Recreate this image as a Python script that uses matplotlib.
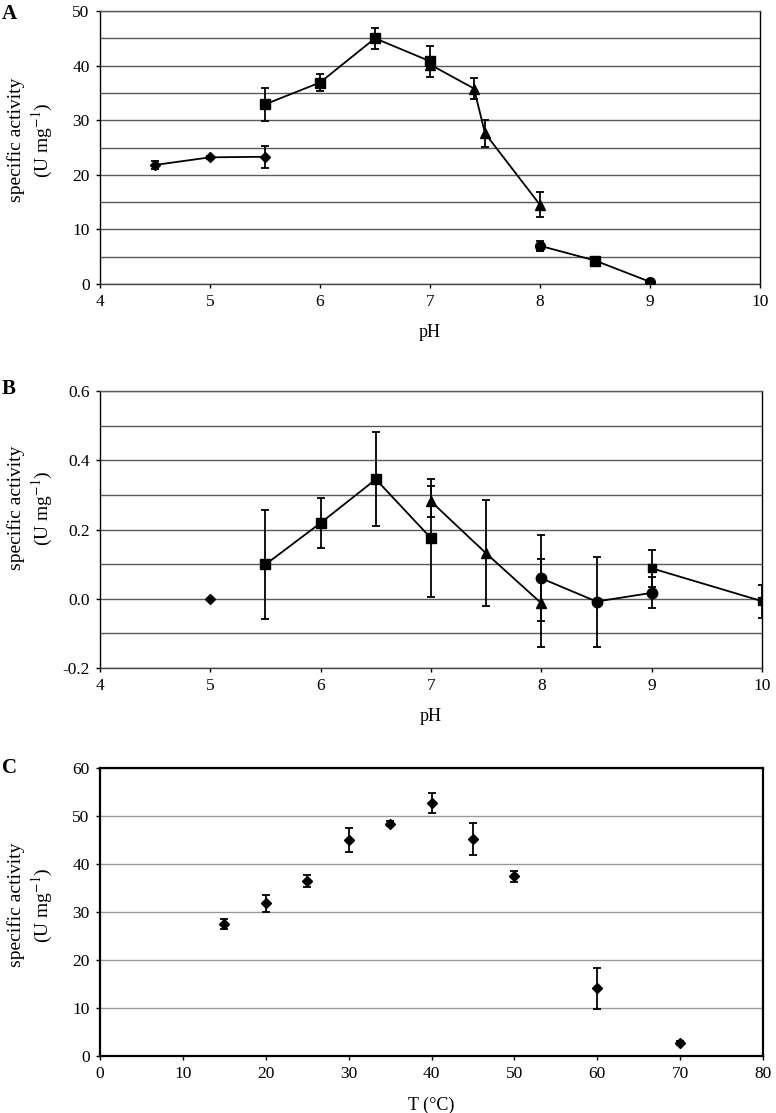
import numpy as np
import matplotlib
matplotlib.use("Agg")
import matplotlib.pyplot as plt
from matplotlib.ticker import MultipleLocator

plt.rcParams['font.family'] = ['Liberation Serif', 'DejaVu Serif']
plt.rcParams['mathtext.fontset'] = 'stix'

# --- panel A: pH profile (U mg-1) ---
a_dia_ph = [4.5, 5.0, 5.5]
a_dia_val = [21.8, 23.2, 23.3]
a_dia_err = [0.7, 0.3, 2.0]

a_sq_ph = [5.5, 6.0, 6.5, 7.0]
a_sq_val = [32.9, 36.9, 45.0, 40.8]
a_sq_err = [3.0, 1.5, 1.9, 2.8]

a_tri_ph = [7.0, 7.4, 7.5, 8.0]
a_tri_val = [40.2, 35.8, 27.6, 14.5]
a_tri_err = [1.0, 2.0, 2.5, 2.3]

a_circ_ph = [8.0, 8.5, 9.0]
a_circ_val = [7.0, 4.3, 0.4]
a_circ_err = [0.9, 0.5, 0.2]

a_sq2_ph = [8.5]
a_sq2_val = [4.3]
a_sq2_err = [0.5]

# --- panel B: pH profile, second enzyme ---
b_dia_ph = [5.0]
b_dia_val = [0.0]

b_sq_ph = [5.5, 6.0, 6.5, 7.0]
b_sq_val = [0.099, 0.219, 0.345, 0.175]
b_sq_err = [0.157, 0.073, 0.136, 0.17]

b_tri_ph = [7.0, 7.5, 8.0]
b_tri_val = [0.281, 0.131, -0.013]
b_tri_err = [0.046, 0.153, 0.127]

b_circ_ph = [8.0, 8.5, 9.0]
b_circ_val = [0.059, -0.008, 0.017]
b_circ_err = [0.124, 0.13, 0.045]

b_sq2_ph = [9.0, 10.0]
b_sq2_val = [0.088, -0.007]
b_sq2_err = [0.054, 0.048]

# --- panel C: temperature profile ---
c_temp = [15, 20, 25, 30, 35, 40, 45, 50, 60, 70]
c_val = [27.5, 31.8, 36.5, 45.0, 48.4, 52.7, 45.2, 37.4, 14.1, 2.7]
c_err = [1.0, 1.7, 1.2, 2.4, 0.5, 2.1, 3.3, 1.2, 4.3, 0.4]

W, H = 776, 1113
fig = plt.figure(figsize=(W / 100, H / 100), dpi=100)

def px_axes(left, top, right, bottom):
    return fig.add_axes([left / W, 1 - bottom / H, (right - left) / W, (bottom - top) / H])

axA = px_axes(100, 11, 760, 284)
axB = px_axes(100, 391, 762, 668)
axC = px_axes(100, 768, 763, 1056)

kw = dict(color='black', ecolor='black', elinewidth=1.3, capthick=1.3, capsize=3.2, lw=1.3)


def series(ax, x, y, e, marker, ms, line=True, **extra):
    ax.errorbar(x, y, yerr=e, fmt=marker + ('-' if line else ''), ms=ms, zorder=3, **kw, **extra)


# panel A
series(axA, a_dia_ph, a_dia_val, a_dia_err, 'D', 5)
series(axA, a_sq_ph, a_sq_val, a_sq_err, 's', 7.5)
series(axA, a_tri_ph, a_tri_val, a_tri_err, '^', 7)
series(axA, a_circ_ph, a_circ_val, a_circ_err, 'o', 7, markevery=[0, 2])
series(axA, a_sq2_ph, a_sq2_val, a_sq2_err, 's', 6.5, line=False)

# panel B
axB.plot(b_dia_ph, b_dia_val, 'D', color='black', ms=5, zorder=3)
series(axB, b_sq_ph, b_sq_val, b_sq_err, 's', 7.5)
series(axB, b_tri_ph, b_tri_val, b_tri_err, '^', 7)
series(axB, b_circ_ph, b_circ_val, b_circ_err, 'o', 7.5)
series(axB, b_sq2_ph, b_sq2_val, b_sq2_err, 's', 5.5)

# panel C
series(axC, c_temp, c_val, c_err, 'D', 5.5, line=False)

ylab = 'specific activity\n(U mg$^{-1}$)'

for ax, xlim, ylim, major, minor, xl in [
        (axA, (4, 10), (0, 50), 10, 5, 'pH'),
        (axB, (4, 10), (-0.2, 0.6), 0.2, 0.1, 'pH'),
        (axC, (0, 80), (0, 60), 10, 10, 'T (°C)')]:
    ax.set_xlim(*xlim)
    ax.set_ylim(*ylim)
    ax.yaxis.set_major_locator(MultipleLocator(major))
    ax.xaxis.set_major_locator(MultipleLocator(1 if xlim[1] == 10 else 10))
    ax.set_yticks(np.arange(ylim[0], ylim[1] + minor / 2, minor), minor=True)
    ax.grid(axis='y', which='both', color='#5a5a5a' if ax is not axC else '#9a9a9a', lw=1.0)
    ax.set_axisbelow(True)
    ax.tick_params(which='both', direction='out', length=3, width=1, labelsize=12.5, pad=4.5)
    ax.tick_params(which='minor', length=0)
    ax.set_xlabel(xl, fontsize=13, labelpad=10)
    for s in ax.spines.values():
        s.set_color('black')
        s.set_linewidth(1.0)
    if ax is not axC:
        ax.spines['top'].set_color('#5a5a5a')
        ax.spines['bottom'].set_color('#444444')

axB.yaxis.set_major_formatter(matplotlib.ticker.FormatStrFormatter('%.1f'))
for s in axC.spines.values():
    s.set_linewidth(1.6)

for ypx in [140, 508, 905]:
    fig.text(31 / W, 1 - ypx / H, ylab, rotation=90, ha='center', va='center', fontsize=14,
             multialignment='center', linespacing=1.3)

for letter, ypx in [('A', 14), ('B', 389), ('C', 768)]:
    fig.text(2 / W, 1 - ypx / H, letter, fontsize=15, fontweight='bold', ha='left', va='center')

fig.savefig('out.png', dpi=100)
